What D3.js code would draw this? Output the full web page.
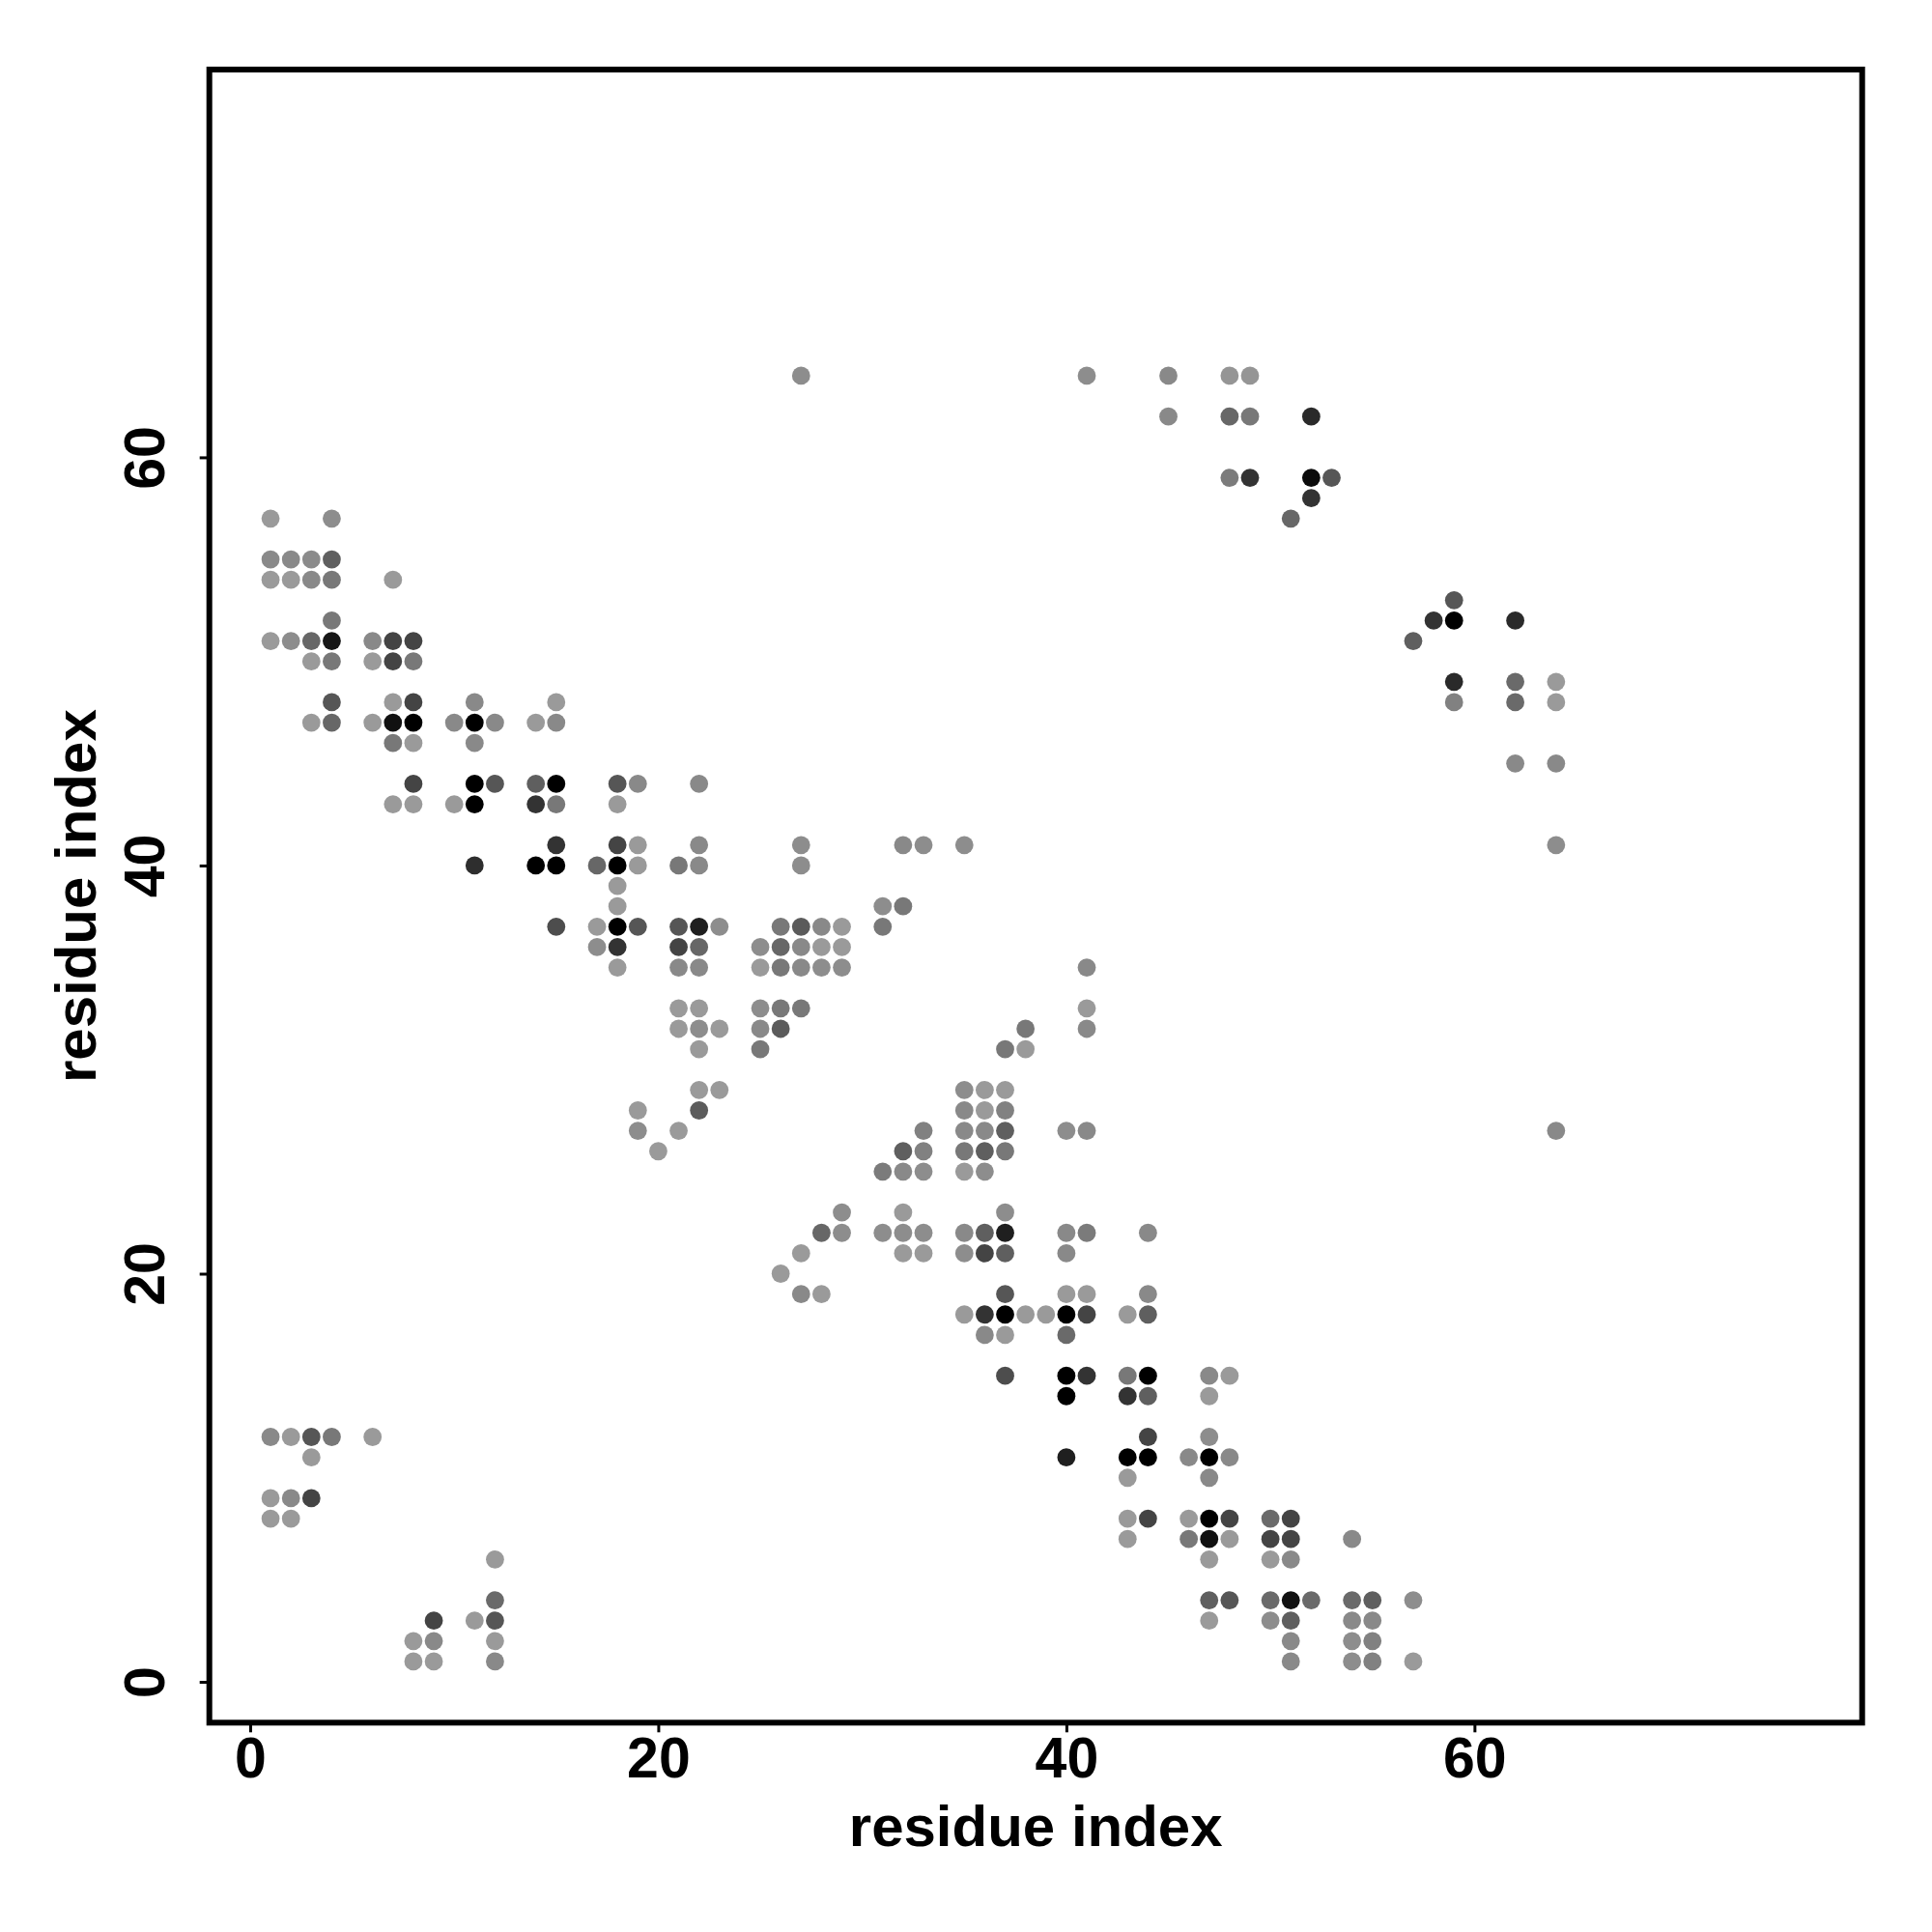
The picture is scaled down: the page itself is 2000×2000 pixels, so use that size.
<!DOCTYPE html>
<html>
<head>
<meta charset="utf-8">
<script src="https://cdn.jsdelivr.net/npm/d3@7"></script>
<style>
  html, body { margin: 0; padding: 0; background: #fff; }
  svg { display: block; }
  text { font-family: "Liberation Sans", Arial, Helvetica, sans-serif; font-weight: bold; fill: #000; }
</style>
</head>
<body>
<svg id="chart" width="2000" height="2000"></svg>
<script>
// ---- data: [residue i, residue j, contact strength 0..1] ----
const topBand = [
  [27,64,0.085],[41,64,0.085],[45,64,0.11],[48,64,0.03],[49,64,0.03],
  [45,62,0.11],[48,62,0.33],[49,62,0.22],[52,62,0.73],
  [48,59,0.2],[49,59,0.67],[52,59,0.93],[53,59,0.44],
  [52,58,0.67],[51,57,0.33]
];
const leftBlock = [
  [1,57,0],[4,57,0.085],
  [1,55,0.11],[2,55,0.11],[3,55,0.1],[4,55,0.38],
  [1,54,0],[2,54,0],[3,54,0.11],[4,54,0.22],[7,54,0],
  [4,52,0.22],
  [1,51,0],[2,51,0.085],[3,51,0.33],[4,51,0.85],[6,51,0.11],[7,51,0.56],[8,51,0.56],
  [3,50,0],[4,50,0.22],[6,50,0],[7,50,0.56],[8,50,0.22],
  [4,48,0.44],[7,48,0],[8,48,0.56],[11,48,0.11],[15,48,0],
  [3,47,0],[4,47,0.33],[6,47,0],[7,47,0.89],[8,47,1],[10,47,0.11],[11,47,1],[12,47,0.11],[14,47,0],[15,47,0.11],
  [7,46,0.22],[8,46,0],[11,46,0.11],
  [8,44,0.56],[11,44,1],[12,44,0.44],[14,44,0.38],[15,44,1],
  [7,43,0],[8,43,0],[10,43,0],[11,43,1],[14,43,0.67],[15,43,0.22],
  [15,41,0.67],
  [11,40,0.7],[14,40,1],[15,40,1],
  [15,37,0.5]
];
const midBlock = [
  [18,44,0.44],[19,44,0.11],[22,44,0.11],
  [18,43,0],
  [18,41,0.56],[19,41,0],[22,41,0.11],[27,41,0.085],
  [17,40,0.33],[18,40,1],[19,40,0],[21,40,0.22],[22,40,0.11],[27,40,0.085],
  [18,39,0],[18,38,0],
  [17,37,0],[18,37,1],[19,37,0.44],[21,37,0.44],[22,37,0.8],[23,37,0.085],[26,37,0.22],[27,37,0.41],[28,37,0.11],[29,37,0],
  [17,36,0.085],[18,36,0.67],[21,36,0.56],[22,36,0.33],[25,36,0.085],[26,36,0.33],[27,36,0.11],[28,36,0],[29,36,0],
  [18,35,0],[21,35,0.11],[22,35,0.11],[25,35,0],[26,35,0.22],[27,35,0.11],[28,35,0.085],[29,35,0.085],
  [21,33,0],[22,33,0],[25,33,0.085],[26,33,0.22],[27,33,0.22],
  [21,32,0],[22,32,0.085],[23,32,0],[25,32,0.11],[26,32,0.41],
  [22,31,0],[25,31,0.22],
  [22,29,0],[23,29,0],
  [19,28,0],[22,28,0.4],
  [19,27,0.085],[21,27,0],
  [20,26,0]
];
const centerBlock = [
  [32,41,0.11],[33,41,0.085],[35,41,0.085],
  [31,38,0.085],[32,38,0.22],
  [31,37,0.22],
  [41,35,0.11],[41,33,0],[38,32,0.22],[41,32,0.11],
  [37,31,0.22],[38,31,0],
  [35,29,0.085],[36,29,0],[37,29,0],
  [35,28,0.11],[36,28,0],[37,28,0.16],
  [33,27,0.16],[35,27,0.11],[36,27,0.11],[37,27,0.38],[40,27,0.085],[41,27,0.11],
  [32,26,0.38],[33,26,0.16],[35,26,0.22],[36,26,0.38],[37,26,0.22],
  [31,25,0.2],[32,25,0.11],[33,25,0.085],[35,25,0],[36,25,0.085],
  [29,23,0.085],[32,23,0],[37,23,0.085],
  [28,22,0.33],[29,22,0.085],[31,22,0.085],[32,22,0.085],[33,22,0.085],[35,22,0.11],[36,22,0.38],[37,22,0.8],[40,22,0.11],[41,22,0.2],[44,22,0.11],
  [27,21,0],[32,21,0],[33,21,0],[35,21,0.085],[36,21,0.56],[37,21,0.38],[40,21,0.11],
  [26,20,0],
  [27,19,0.11],[28,19,0],[37,19,0.44],[40,19,0],[41,19,0],[44,19,0.11],
  [35,18,0],[36,18,0.67],[37,18,1],[38,18,0],[39,18,0],[40,18,1],[41,18,0.56],[43,18,0],[44,18,0.38],
  [36,17,0.11],[37,17,0],[40,17,0.31]
];
const lowerDiag = [
  [37,15,0.5],[40,15,1],[41,15,0.67],[43,15,0.22],[44,15,1],[47,15,0.11],[48,15,0],
  [40,14,1],[43,14,0.67],[44,14,0.38],[47,14,0],
  [44,12,0.56],[47,12,0.085],
  [40,11,0.8],[43,11,1],[44,11,1],[46,11,0.11],[47,11,1],[48,11,0.11],
  [43,10,0],[47,10,0.11],
  [43,8,0],[44,8,0.56],[46,8,0],[47,8,1],[48,8,0.56],[50,8,0.31],[51,8,0.56],
  [43,7,0],[46,7,0.22],[47,7,0.89],[48,7,0],[50,7,0.56],[51,7,0.56],[54,7,0.11],
  [47,6,0],[50,6,0],[51,6,0.11],
  [47,4,0.38],[48,4,0.44],[50,4,0.31],[51,4,0.89],[52,4,0.31],[54,4,0.31],[55,4,0.38],[57,4,0.085],
  [47,3,0],[50,3,0.085],[51,3,0.38],[54,3,0.11],[55,3,0.11],
  [51,2,0.11],[54,2,0.085],[55,2,0.16],
  [51,1,0.11],[54,1,0.085],[55,1,0.16],[57,1,0]
];
const rightCluster = [
  [59,53,0.44],[58,52,0.67],[59,52,1],[62,52,0.73],[57,51,0.38],
  [59,49,0.73],[62,49,0.31],[64,49,0],
  [59,48,0.16],[62,48,0.31],[64,48,0],
  [62,45,0.11],[64,45,0.11],[64,41,0.085],[64,27,0.11]
];
const bottomLeft = [
  [1,12,0.11],[2,12,0],[3,12,0.44],[4,12,0.22],[6,12,0],
  [3,11,0],
  [1,9,0],[2,9,0.11],[3,9,0.56],
  [1,8,0],[2,8,0],
  [12,6,0],[12,4,0.31],
  [9,3,0.56],[11,3,0],[12,3,0.44],
  [8,2,0],[9,2,0.11],[12,2,0],
  [8,1,0],[9,1,0],[12,1,0.11]
];
const xTicks = [0, 20, 40, 60];
const yTicks = [0, 20, 40, 60];
const xDomain = [-2, 79];
const yDomain = [-2, 79];
const axisTitleX = "residue index";
const axisTitleY = "residue index";

// ---- drawing ----
const contacts = [].concat(topBand, leftBlock, midBlock, centerBlock, lowerDiag, rightCluster, bottomLeft);
const plot = { left: 216.7, right: 1927.7, top: 72, bottom: 1783.3 };

const svg = d3.select("#chart");
svg.append("rect").attr("width", 2000).attr("height", 2000).attr("fill", "#fff");

const x = d3.scaleLinear().domain(xDomain).range([plot.left, plot.right]);
const y = d3.scaleLinear().domain(yDomain).range([plot.bottom, plot.top]);
const gray = d3.scaleLinear().domain([0, 1]).range(["#9a9a9a", "#000000"]);

svg.append("g")
  .selectAll("circle")
  .data(contacts)
  .join("circle")
  .attr("cx", d => x(d[0]))
  .attr("cy", d => y(d[1]))
  .attr("r", 9.4)
  .attr("fill", d => gray(d[2]));

// axes
const gx = svg.append("g")
  .attr("transform", `translate(0,${plot.bottom})`)
  .call(d3.axisBottom(x).tickValues(xTicks).tickSize(10).tickPadding(5).tickFormat(d3.format("d")));
gx.select(".domain").remove();
gx.selectAll(".tick line").attr("stroke", "#000").attr("stroke-width", 3);
gx.selectAll(".tick text").attr("font-size", 59).attr("font-family", null).attr("fill", "#000");

const gy = svg.append("g")
  .attr("transform", `translate(${plot.left},0)`)
  .call(d3.axisLeft(y).tickValues(yTicks).tickSize(10).tickFormat(d3.format("d")));
gy.select(".domain").remove();
gy.selectAll(".tick line").attr("stroke", "#000").attr("stroke-width", 3);
gy.selectAll(".tick text")
  .attr("font-size", 59).attr("font-family", null).attr("fill", "#000")
  .attr("x", null).attr("dy", null)
  .attr("text-anchor", "middle")
  .attr("transform", `translate(${170 - plot.left},0) rotate(-90)`);

// box
svg.append("rect")
  .attr("x", plot.left).attr("y", plot.top)
  .attr("width", plot.right - plot.left).attr("height", plot.bottom - plot.top)
  .attr("fill", "none").attr("stroke", "#000").attr("stroke-width", 6);

// titles
svg.append("text")
  .attr("x", (plot.left + plot.right) / 2).attr("y", 1911)
  .attr("text-anchor", "middle").attr("font-size", 60)
  .text(axisTitleX);
svg.append("text")
  .attr("transform", `translate(99,${(plot.top + plot.bottom) / 2}) rotate(-90)`)
  .attr("text-anchor", "middle").attr("font-size", 60)
  .text(axisTitleY);
</script>
</body>
</html>
